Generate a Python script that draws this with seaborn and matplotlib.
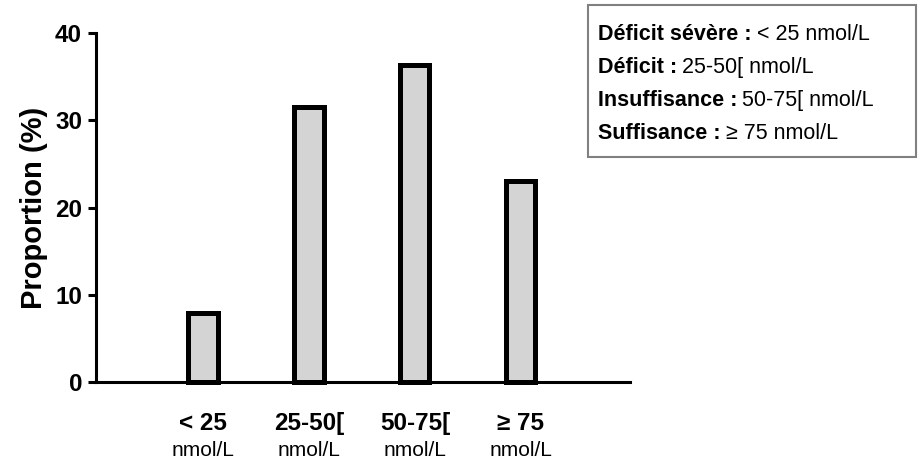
import matplotlib
matplotlib.use("Agg")
import matplotlib.pyplot as plt
from matplotlib.patches import Rectangle
import matplotlib.transforms as mtransforms
import seaborn as sns
import pandas as pd

categories = ["< 25", "25-50[", "50-75[", "\u2265 75"]
units = ["nmol/L", "nmol/L", "nmol/L", "nmol/L"]
proportions = [7.9, 31.5, 36.3, 23.0]
yticks = [0, 10, 20, 30, 40]
ylabel = "Proportion (%)"
legend_bold = ["D\u00e9ficit s\u00e9v\u00e8re :", "D\u00e9ficit :", "Insuffisance :", "Suffisance :"]
legend_regular = ["< 25 nmol/L", "25-50[ nmol/L", "50-75[ nmol/L", "\u2265 75 nmol/L"]

sns.set_theme(style="ticks")
plt.rcParams["font.family"] = ["Liberation Sans", "DejaVu Sans"]
plt.rcParams["text.color"] = "black"
plt.rcParams["axes.labelcolor"] = "black"

W, H = 922, 461
fig = plt.figure(figsize=(W / 100, H / 100), dpi=100)
ax = fig.add_axes([96 / W, 1 - 382 / H, (630 - 96) / W, (382 - 33) / H])

df = pd.DataFrame({"cat": categories, "val": proportions})
sns.barplot(data=df, x="cat", y="val", ax=ax, color="#d4d4d4", saturation=1,
            edgecolor="black", linewidth=3.6, width=0.275)
for p in ax.patches:
    p.set_clip_on(False)
    p.set_facecolor("#d4d4d4")

ax.set_xlim(-1.01, 4.03)
ax.set_ylim(0, 40)
ax.set_yticks(yticks)
ax.set_yticklabels([str(t) for t in yticks], fontsize=17.5, fontweight="bold")
ax.set_xticks(range(len(categories)))
ax.set_xticklabels([""] * len(categories))
ax.tick_params(axis="x", length=0)
ax.tick_params(axis="y", length=6, width=2.2, pad=4, colors="black")
ax.set_xlabel("")
ax.set_ylabel(ylabel, fontsize=21, fontweight="bold", labelpad=5, color="black")
for s in ["top", "right"]:
    ax.spines[s].set_visible(False)
for s in ["left", "bottom"]:
    ax.spines[s].set_linewidth(2.2)
    ax.spines[s].set_color("black")

trans = mtransforms.blended_transform_factory(ax.transData, fig.transFigure)
for i, (c, u) in enumerate(zip(categories, units)):
    ax.text(i, 1 - 430 / H, c, transform=trans, ha="center", va="baseline",
            fontsize=17.5, fontweight="bold", color="black")
    ax.text(i, 1 - 456 / H, u, transform=trans, ha="center", va="baseline",
            fontsize=15, color="black")

# legend box
fig.patches.append(Rectangle((588 / W, 1 - 157 / H), 328 / W, 152 / H,
                             transform=fig.transFigure, facecolor="white",
                             edgecolor="#808080", linewidth=1.5))
fig.canvas.draw()
renderer = fig.canvas.get_renderer()
baselines = [40, 73, 106, 139]
for b, r, yb in zip(legend_bold, legend_regular, baselines):
    t = fig.text(598 / W, 1 - yb / H, b, fontsize=15.5, fontweight="bold",
                 va="baseline", ha="left", color="black")
    bb = t.get_window_extent(renderer)
    fig.text(bb.x1 / W + 5 / W, 1 - yb / H, r, fontsize=15.5, va="baseline",
             ha="left", color="black")

fig.savefig("out.png", dpi=100)
